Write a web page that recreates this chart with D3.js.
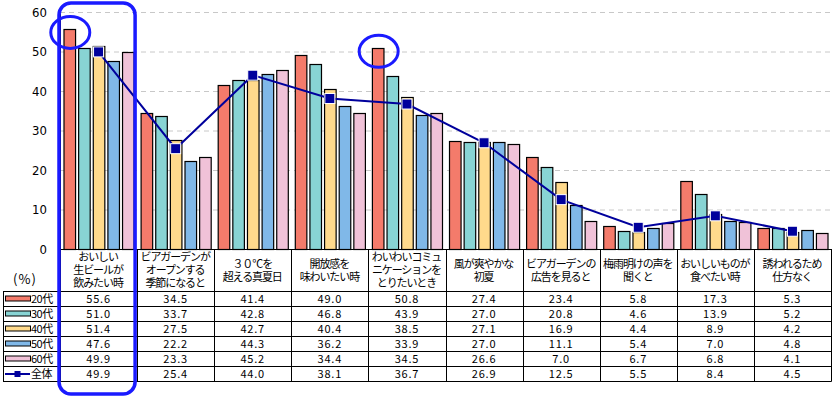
<!DOCTYPE html>
<html>
<head>
<meta charset="utf-8">
<script src="https://cdn.jsdelivr.net/npm/d3@7"></script>
<style>
  body { margin: 0; background: #fff; }
  svg text { font-family: "Noto Sans CJK JP", sans-serif; }
</style>
</head>
<body>
<div id="chart"></div>
<script>
// categories (header lines of the table)
var categories = [
  ["おいしい", "生ビールが", "飲みたい時"],
  ["ビアガーデンが", "オープンする", "季節になると"],
  ["３０℃を", "超える真夏日"],
  ["開放感を", "味わいたい時"],
  ["わいわいコミュ", "ニケーションを", "とりたいとき"],
  ["風が爽やかな", "初夏"],
  ["ビアガーデンの", "広告を見ると"],
  ["梅雨明けの声を", "聞くと"],
  ["おいしいものが", "食べたい時"],
  ["誘われるため", "仕方なく"]
];

var seriesNames = ["20代", "30代", "40代", "50代", "60代"];
var v20 = [55.6, 34.5, 41.4, 49.0, 50.8, 27.4, 23.4, 5.8, 17.3, 5.3];
var v30 = [51.0, 33.7, 42.8, 46.8, 43.9, 27.0, 20.8, 4.6, 13.9, 5.2];
var v40 = [51.4, 27.5, 42.7, 40.4, 38.5, 27.1, 16.9, 4.4, 8.9, 4.2];
var v50 = [47.6, 22.2, 44.3, 36.2, 33.9, 27.0, 11.1, 5.4, 7.0, 4.8];
var v60 = [49.9, 23.3, 45.2, 34.4, 34.5, 26.6, 7.0, 6.7, 6.8, 4.1];
var lineName = "全体";
var total = [49.9, 25.4, 44.0, 38.1, 36.7, 26.9, 12.5, 5.5, 8.4, 4.5];
var yTicks = [0, 10, 20, 30, 40, 50, 60];

var barValues = [v20, v30, v40, v50, v60];
var colors = ["#f47b6b", "#88d4d4", "#ffda8c", "#80b8e8", "#f0c2d8"];
var lineColor = "#00009c";
var hiColor = "#1a1aff";

var width = 835, height = 397;
var left = 60, right = 831;
var plotTop = 12, plotBottom = 249;
var headBottom = 291.5, rowH = 15;
var tableLeft = 3;

var svg = d3.select("#chart").append("svg")
    .attr("width", width)
    .attr("height", height);

var x = d3.scaleBand()
    .domain(d3.range(categories.length))
    .range([left, right]);

// bars inside each group
var xInner = d3.scaleBand()
    .domain(d3.range(seriesNames.length))
    .range([3.5, x.bandwidth() - 3.5])
    .paddingInner(0.21)
    .paddingOuter(0);

var y = d3.scaleLinear()
    .domain([0, 60])
    .range([plotBottom, plotTop]);

// gridlines
svg.append("g")
    .selectAll("line")
    .data(yTicks.filter(function(d) { return d > 0; }))
    .join("line")
    .attr("x1", left)
    .attr("x2", right)
    .attr("y1", function(d) { return y(d) + 0.5; })
    .attr("y2", function(d) { return y(d) + 0.5; })
    .attr("stroke", "#c8c8c8")
    .attr("stroke-dasharray", "5,4");

// y axis
var yAxis = d3.axisLeft(y).tickValues(yTicks).tickSize(0).tickPadding(13);
var gy = svg.append("g")
    .attr("transform", "translate(" + left + ",0)")
    .call(yAxis);
gy.select(".domain").attr("stroke", "#000");
gy.selectAll("text")
    .style("font-family", "'DejaVu Sans Condensed', 'Liberation Sans', sans-serif")
    .style("font-size", "13px")
    .attr("fill", "#000");

// bars
var groups = svg.append("g")
    .selectAll("g")
    .data(categories)
    .join("g")
    .attr("transform", function(d, i) { return "translate(" + x(i) + ",0)"; });

groups.selectAll("rect")
    .data(function(d, i) {
      return barValues.map(function(s, j) { return { s: j, v: s[i] }; });
    })
    .join("rect")
    .attr("x", function(d) { return xInner(d.s) + 0.5; })
    .attr("y", function(d) { return Math.round(y(d.v)) + 0.5; })
    .attr("width", xInner.bandwidth())
    .attr("height", function(d) { return plotBottom - Math.round(y(d.v)); })
    .attr("fill", function(d) { return colors[d.s]; })
    .attr("stroke", "#000")
    .attr("stroke-width", 1.2);

// total line
function cx(i) { return x(i) + xInner(2) + xInner.bandwidth() / 2; }
var line = d3.line()
    .x(function(d, i) { return cx(i); })
    .y(function(d) { return y(d); });

svg.append("path")
    .datum(total)
    .attr("d", line)
    .attr("fill", "none")
    .attr("stroke", lineColor)
    .attr("stroke-width", 2);

svg.append("g")
    .selectAll("rect")
    .data(total)
    .join("rect")
    .attr("x", function(d, i) { return cx(i) - 5; })
    .attr("y", function(d) { return y(d) - 5; })
    .attr("width", 10)
    .attr("height", 10)
    .attr("fill", lineColor)
    .attr("stroke", "#fff")
    .attr("stroke-width", 1);

// x axis line (top of the table)
svg.append("line")
    .attr("x1", left).attr("x2", right)
    .attr("y1", plotBottom + 0.5).attr("y2", plotBottom + 0.5)
    .attr("stroke", "#000");

// table
var table = svg.append("g");

// vertical column lines
table.selectAll("line.col")
    .data(d3.range(categories.length + 1))
    .join("line")
    .attr("class", "col")
    .attr("x1", function(i) { return Math.round(left + i * x.bandwidth()) + 0.5; })
    .attr("x2", function(i) { return Math.round(left + i * x.bandwidth()) + 0.5; })
    .attr("y1", plotBottom)
    .attr("y2", headBottom + rowH * 6)
    .attr("stroke", "#000");

table.append("line")
    .attr("x1", tableLeft + 0.5).attr("x2", tableLeft + 0.5)
    .attr("y1", headBottom).attr("y2", headBottom + rowH * 6)
    .attr("stroke", "#000");

table.selectAll("line.row")
    .data(d3.range(7))
    .join("line")
    .attr("class", "row")
    .attr("x1", tableLeft)
    .attr("x2", right + 0.5)
    .attr("y1", function(i) { return headBottom + i * rowH; })
    .attr("y2", function(i) { return headBottom + i * rowH; })
    .attr("stroke", "#000");

// header text
var headMid = (plotBottom + headBottom) / 2;
table.selectAll("text.head")
    .data(categories)
    .join("text")
    .attr("class", "head")
    .attr("text-anchor", "middle")
    .attr("font-size", 11)
    .attr("letter-spacing", -1.1)
    .attr("x", function(d, i) { return x(i) + x.bandwidth() / 2; })
    .each(function(d) {
      var t = d3.select(this);
      var start = headMid - (d.length - 1) * 13 / 2;
      d.forEach(function(s, k) {
        t.append("tspan")
          .attr("x", +t.attr("x") - 0.5)
          .attr("y", start + k * 13 + 4)
          .text(s);
      });
    });

table.append("text")
    .attr("x", 25)
    .attr("y", 284)
    .attr("text-anchor", "middle")
    .attr("font-size", 13)
    .attr("letter-spacing", 1)
    .text("(%)");

// rows
var rows = barValues.concat([total]);
var rowNames = seriesNames.concat([lineName]);

rows.forEach(function(vals, r) {
  var rowY = headBottom + r * rowH + rowH / 2;
  table.selectAll("text.v" + r)
    .data(vals)
    .join("text")
    .attr("x", function(d, i) { return x(i) + x.bandwidth() / 2; })
    .attr("y", rowY + 4)
    .attr("text-anchor", "middle")
    .attr("font-size", 11)
    .attr("letter-spacing", 0.8)
    .text(function(d) { return d3.format(".1f")(d); });

  if (r < seriesNames.length) {
    table.append("rect")
      .attr("x", 5.5).attr("y", rowY - 3)
      .attr("width", 25).attr("height", 5)
      .attr("fill", colors[r])
      .attr("stroke", "#000");
  } else {
    table.append("line")
      .attr("x1", 5).attr("x2", 30)
      .attr("y1", rowY).attr("y2", rowY)
      .attr("stroke", lineColor).attr("stroke-width", 2);
    table.append("rect")
      .attr("x", 14.5).attr("y", rowY - 3)
      .attr("width", 6).attr("height", 6)
      .attr("fill", lineColor);
  }
  table.append("text")
    .attr("x", 31)
    .attr("y", rowY + 4)
    .attr("font-size", 11)
    .attr("letter-spacing", -0.5)
    .text(rowNames[r]);
});

// highlights
svg.append("rect")
    .attr("x", left - 1)
    .attr("y", 3)
    .attr("width", x.bandwidth() - 1)
    .attr("height", 391)
    .attr("rx", 12)
    .attr("fill", "none")
    .attr("stroke", hiColor)
    .attr("stroke-width", 3.5);

var marks = [[0, 0], [4, 0]];
svg.selectAll("ellipse")
    .data(marks)
    .join("ellipse")
    .attr("cx", function(d) { return x(d[0]) + xInner(d[1]) + xInner.bandwidth() / 2 + 1; })
    .attr("cy", function(d) { return y(barValues[d[1]][d[0]]) + 3; })
    .attr("rx", 19.5)
    .attr("ry", 16)
    .attr("fill", "none")
    .attr("stroke", hiColor)
    .attr("stroke-width", 3);
</script>
</body>
</html>
